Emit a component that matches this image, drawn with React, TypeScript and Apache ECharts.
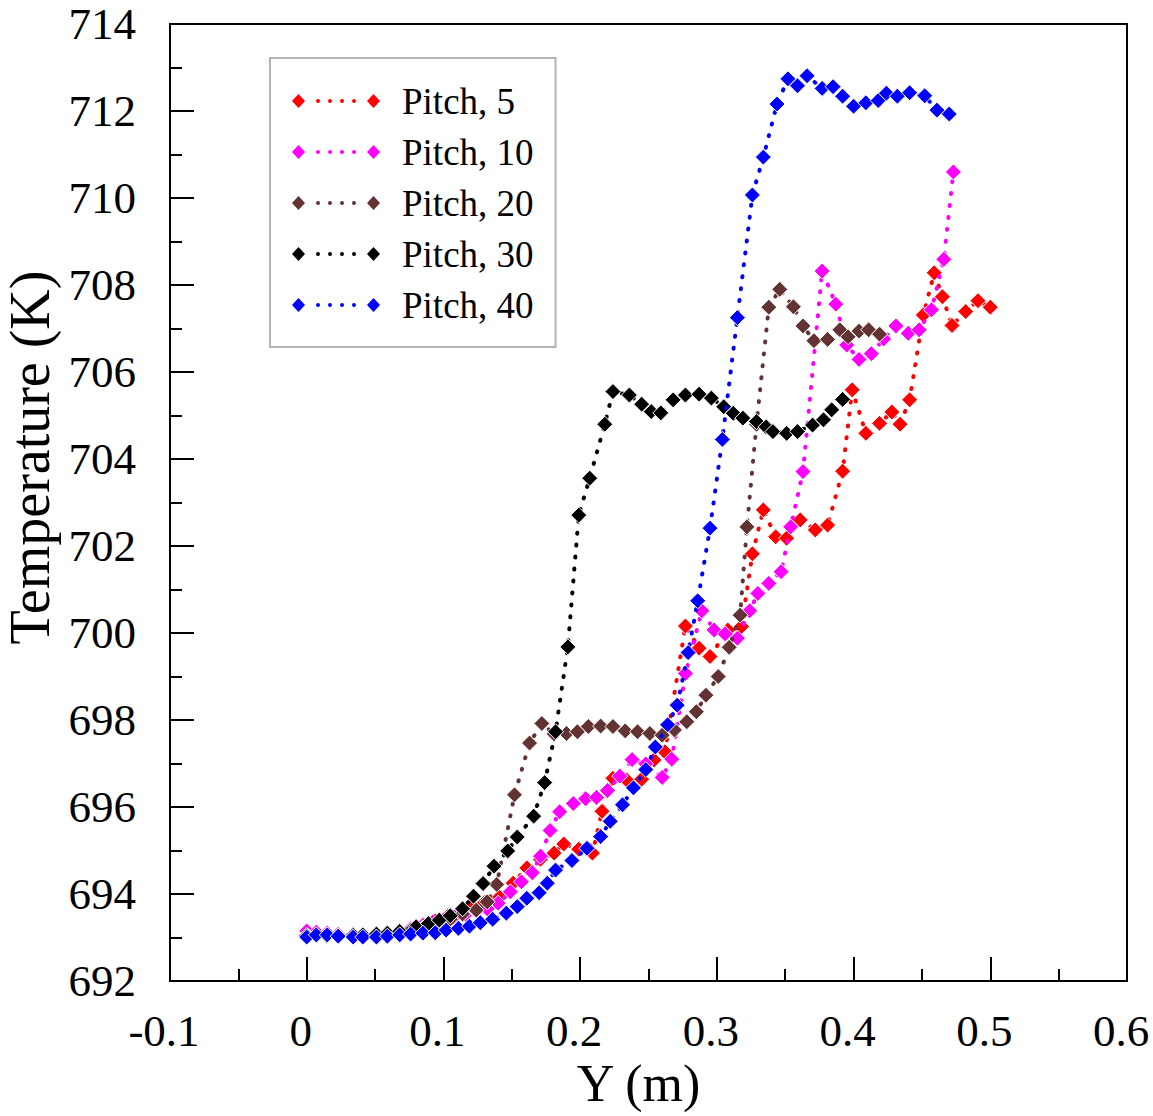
import React, { useEffect, useRef } from 'react';
import * as echarts from 'echarts';

const seriesNames = ['Pitch, 5', 'Pitch, 10', 'Pitch, 20', 'Pitch, 30', 'Pitch, 40'];
const seriesColors = ['#ff0000', '#ff00ff', '#633333', '#000000', '#0000ff'];

const pitch5: [number, number][] = [
  [0.000, 693.08], [0.007, 693.07], [0.015, 693.06], [0.023, 693.05], [0.034, 693.05], [0.041, 693.06],
  [0.051, 693.08], [0.059, 693.11], [0.068, 693.15], [0.076, 693.20], [0.085, 693.30], [0.094, 693.38],
  [0.103, 693.48], [0.112, 693.58], [0.120, 693.68], [0.130, 693.80], [0.141, 693.93], [0.151, 694.25],
  [0.161, 694.60], [0.171, 694.80], [0.181, 694.94], [0.188, 695.15], [0.199, 695.03], [0.209, 694.94],
  [0.216, 695.90], [0.224, 696.66], [0.234, 696.62], [0.245, 696.64], [0.254, 697.08], [0.262, 697.27],
  [0.277, 700.16], [0.287, 699.65], [0.295, 699.46], [0.308, 700.07], [0.318, 700.15], [0.326, 701.82],
  [0.334, 702.83], [0.343, 702.21], [0.351, 702.18], [0.361, 702.60], [0.372, 702.37], [0.381, 702.48],
  [0.392, 703.72], [0.399, 705.59], [0.409, 704.59], [0.419, 704.82], [0.428, 705.08], [0.434, 704.80],
  [0.441, 705.36], [0.451, 707.31], [0.459, 708.28], [0.465, 707.73], [0.472, 707.07], [0.482, 707.39],
  [0.491, 707.64], [0.500, 707.49],
];

const pitch10: [number, number][] = [
  [0.000, 693.15], [0.007, 693.12], [0.015, 693.10], [0.023, 693.08], [0.034, 693.07], [0.041, 693.07],
  [0.051, 693.09], [0.059, 693.12], [0.068, 693.16], [0.076, 693.20], [0.085, 693.28], [0.092, 693.35],
  [0.100, 693.40], [0.108, 693.47], [0.116, 693.53], [0.124, 693.60], [0.132, 693.66], [0.140, 693.79],
  [0.149, 694.05], [0.157, 694.28], [0.165, 694.49], [0.171, 694.87], [0.178, 695.46], [0.185, 695.89],
  [0.195, 696.08], [0.204, 696.19], [0.212, 696.22], [0.220, 696.38], [0.229, 696.71], [0.238, 697.09],
  [0.248, 696.99], [0.260, 696.68], [0.267, 697.10], [0.277, 699.07], [0.289, 700.51], [0.298, 700.07],
  [0.306, 699.98], [0.315, 699.88], [0.324, 700.51], [0.330, 700.91], [0.338, 701.14], [0.347, 701.41],
  [0.354, 702.44], [0.363, 703.71], [0.377, 708.32], [0.387, 707.56], [0.395, 706.62], [0.404, 706.29],
  [0.413, 706.42], [0.422, 706.76], [0.431, 707.06], [0.440, 706.89], [0.448, 706.97], [0.457, 707.43],
  [0.466, 708.59], [0.473, 710.60],
];

const pitch20: [number, number][] = [
  [0.000, 693.05], [0.007, 693.05], [0.015, 693.04], [0.023, 693.04], [0.034, 693.04], [0.041, 693.05],
  [0.051, 693.07], [0.059, 693.10], [0.068, 693.13], [0.076, 693.17], [0.085, 693.22], [0.094, 693.30],
  [0.105, 693.42], [0.114, 693.54], [0.124, 693.63], [0.132, 693.82], [0.139, 694.22], [0.152, 696.28],
  [0.163, 697.47], [0.172, 697.92], [0.181, 697.68], [0.190, 697.69], [0.198, 697.73], [0.206, 697.85],
  [0.215, 697.86], [0.224, 697.85], [0.233, 697.75], [0.242, 697.73], [0.251, 697.69], [0.260, 697.65],
  [0.269, 697.77], [0.278, 697.96], [0.285, 698.19], [0.292, 698.57], [0.301, 699.00], [0.309, 699.67],
  [0.317, 700.41], [0.322, 702.44], [0.329, 704.80], [0.338, 707.49], [0.346, 707.90], [0.356, 707.50],
  [0.363, 707.06], [0.371, 706.72], [0.381, 706.75], [0.390, 706.97], [0.396, 706.81], [0.404, 706.94],
  [0.411, 706.97], [0.419, 706.87],
];

const pitch30: [number, number][] = [
  [0.000, 693.04], [0.007, 693.05], [0.015, 693.04], [0.023, 693.04], [0.034, 693.05], [0.041, 693.06],
  [0.051, 693.08], [0.059, 693.10], [0.068, 693.14], [0.080, 693.25], [0.089, 693.32], [0.097, 693.40],
  [0.105, 693.50], [0.114, 693.66], [0.122, 693.95], [0.129, 694.24], [0.137, 694.64], [0.147, 694.99],
  [0.154, 695.31], [0.166, 695.79], [0.174, 696.56], [0.182, 697.73], [0.191, 699.68], [0.199, 702.71],
  [0.207, 703.56], [0.218, 704.80], [0.224, 705.55], [0.236, 705.47], [0.245, 705.26], [0.252, 705.09],
  [0.259, 705.06], [0.268, 705.36], [0.277, 705.47], [0.287, 705.49], [0.296, 705.40], [0.305, 705.20],
  [0.312, 705.05], [0.319, 704.94], [0.329, 704.86], [0.336, 704.74], [0.341, 704.63], [0.351, 704.59],
  [0.359, 704.63], [0.370, 704.78], [0.378, 704.90], [0.384, 705.13], [0.392, 705.37],
];

const pitch40: [number, number][] = [
  [0.000, 693.01], [0.007, 693.06], [0.015, 693.06], [0.023, 693.03], [0.034, 693.01], [0.041, 693.01],
  [0.051, 693.01], [0.059, 693.03], [0.068, 693.06], [0.076, 693.08], [0.085, 693.10], [0.094, 693.11],
  [0.102, 693.17], [0.111, 693.21], [0.119, 693.26], [0.127, 693.34], [0.136, 693.42], [0.146, 693.56],
  [0.154, 693.71], [0.161, 693.90], [0.170, 694.03], [0.176, 694.25], [0.182, 694.55], [0.194, 694.77],
  [0.205, 695.05], [0.215, 695.32], [0.222, 695.67], [0.231, 696.05], [0.239, 696.44], [0.248, 696.86],
  [0.255, 697.38], [0.264, 697.89], [0.271, 698.34], [0.279, 699.55], [0.286, 700.74], [0.295, 702.41],
  [0.304, 704.45], [0.315, 707.25], [0.326, 710.07], [0.334, 710.94], [0.344, 712.16], [0.352, 712.74],
  [0.359, 712.58], [0.366, 712.81], [0.377, 712.52], [0.385, 712.56], [0.392, 712.34], [0.400, 712.11],
  [0.409, 712.19], [0.418, 712.24], [0.424, 712.41], [0.432, 712.34], [0.441, 712.42], [0.452, 712.35],
  [0.461, 712.02], [0.470, 711.93],
];

const seriesData = [pitch5, pitch10, pitch20, pitch30, pitch40];

const xMin = -0.1;
const xMax = 0.6;
const xStep = 0.1;
const yMin = 692;
const yMax = 714;
const yStep = 2;

const FONT = "'Liberation Serif', 'Times New Roman', serif";

const legendIcon =
  'path://M0,7L6.5,0L13,7L6.5,14Z M75,7L81.5,0L88,7L81.5,14Z ' +
  'M24,7A2,2,0,1,0,28,7A2,2,0,1,0,24,7Z M36,7A2,2,0,1,0,40,7A2,2,0,1,0,36,7Z ' +
  'M48,7A2,2,0,1,0,52,7A2,2,0,1,0,48,7Z M60,7A2,2,0,1,0,64,7A2,2,0,1,0,60,7Z';

export default function App() {
  const ref = useRef<HTMLDivElement>(null);

  useEffect(() => {
    if (!ref.current) return;
    const chart = echarts.init(ref.current, undefined, { renderer: 'svg' });

    const tickLine = { color: '#000', width: 2 };

    const option: any = {
      animation: false,
      backgroundColor: '#ffffff',
      grid: {
        left: 170,
        right: 26,
        top: 24,
        bottom: 135,
        show: true,
        borderColor: '#000',
        borderWidth: 2,
        backgroundColor: 'transparent',
        containLabel: false,
        outerBoundsMode: 'none',
      },
      legend: {
        orient: 'vertical',
        left: 270,
        top: 58,
        padding: [23, 22, 22, 22],
        itemGap: 11,
        itemWidth: 88,
        itemHeight: 14,
        icon: legendIcon,
        selectedMode: false,
        backgroundColor: '#ffffff',
        borderColor: '#b3b3b3',
        borderWidth: 2,
        borderRadius: 0,
        itemStyle: { borderWidth: 0 },
        textStyle: {
          fontFamily: FONT,
          fontSize: 37,
          lineHeight: 40,
          color: '#000',
          padding: [0, 0, 0, 17],
        },
        data: seriesNames,
      },
      xAxis: {
        type: 'value',
        min: xMin,
        max: xMax,
        interval: xStep,
        name: 'Y (m)',
        nameLocation: 'middle',
        nameGap: 74,
        nameTextStyle: { fontFamily: FONT, fontSize: 52, color: '#000', padding: [0, 20, 0, 0] },
        axisLine: { show: true, onZero: false, lineStyle: tickLine },
        axisTick: { show: true, inside: true, length: 24, lineStyle: tickLine },
        minorTick: { show: true, splitNumber: 2, length: 12, lineStyle: tickLine },
        splitLine: { show: false },
        axisLabel: {
          fontFamily: FONT,
          fontSize: 45,
          color: '#000',
          margin: 27,
          padding: [0, 12, 0, 0],
          formatter: (v: number) => (Math.abs(v) < 1e-9 ? '0' : String(+v.toFixed(1))),
        },
      },
      yAxis: {
        type: 'value',
        min: yMin,
        max: yMax,
        interval: yStep,
        name: 'Temperature (K)',
        nameLocation: 'middle',
        nameGap: 80,
        nameTextStyle: { fontFamily: FONT, fontSize: 56, color: '#000', padding: [0, 0, 0, 90] },
        axisLine: { show: true, onZero: false, lineStyle: tickLine },
        axisTick: { show: true, inside: true, length: 24, lineStyle: tickLine },
        minorTick: { show: true, splitNumber: 2, length: 12, lineStyle: tickLine },
        splitLine: { show: false },
        axisLabel: {
          fontFamily: FONT,
          fontSize: 45,
          color: '#000',
          margin: 34,
          formatter: (v: number) => String(Math.round(v)),
        },
      },
      series: seriesNames.map((name, i) => ({
        name,
        type: 'line',
        data: seriesData[i],
        symbol: 'diamond',
        symbolSize: 16,
        showSymbol: true,
        clip: true,
        lineStyle: { color: seriesColors[i], width: 4, type: [1, 11], cap: 'round' },
        itemStyle: { color: seriesColors[i], borderColor: '#ffffff', borderWidth: 1 },
        emphasis: { disabled: true },
        z: 2 + i,
      })),
    };

    chart.setOption(option);
    return () => chart.dispose();
  }, []);

  return (
    <div
      ref={ref}
      style={{ position: 'absolute', left: 0, top: 0, width: 1153, height: 1116, background: '#fff' }}
    />
  );
}
